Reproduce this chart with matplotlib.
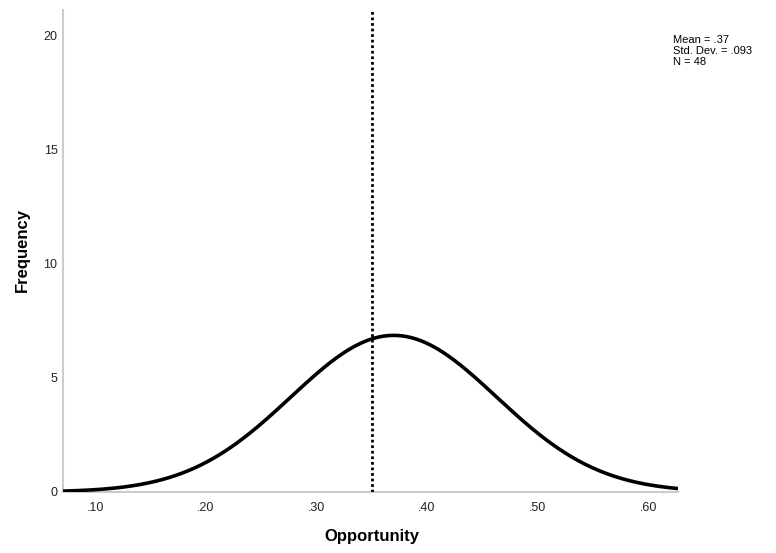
import numpy as np
import matplotlib
matplotlib.use("Agg")
import matplotlib.pyplot as plt

plt.rcParams['font.family'] = ['Liberation Sans', 'DejaVu Sans']

mean = 0.37
sd = 0.093
n = 48
bin_width = 0.0333
ref_line = 0.35
xticks = [0.10, 0.20, 0.30, 0.40, 0.50, 0.60]
xtick_labels = ['.10', '.20', '.30', '.40', '.50', '.60']
yticks = [0, 5, 10, 15, 20]

fig = plt.figure(figsize=(7.76, 5.53), dpi=100)
ax = fig.add_axes([63/776, 1-492/553, (678-63)/776, (492-10)/553])

xmin, xmax = 0.071, 0.627
xs = np.linspace(xmin, xmax, 400)
ys = n * bin_width / (sd * np.sqrt(2*np.pi)) * np.exp(-0.5*((xs-mean)/sd)**2)
ax.plot(xs, ys, color='black', lw=2.6, solid_capstyle='butt', zorder=3)
ax.axvline(ref_line, color='black', lw=2, linestyle=(0, (1, 1)), zorder=4)

ax.set_xlim(xmin, xmax)
ax.set_ylim(0, 21.1)
ax.set_xticks(xticks)
ax.set_xticklabels(xtick_labels)
ax.set_yticks(yticks)
ax.tick_params(length=0, labelsize=9, colors='#222222')
ax.tick_params(axis='x', pad=7)
ax.tick_params(axis='y', pad=4)
for s in ['top', 'right']:
    ax.spines[s].set_visible(False)
for s in ['left', 'bottom']:
    ax.spines[s].set_color('#cccccc')
    ax.spines[s].set_linewidth(1.5)

fig.text(372/776, 1-537/553, 'Opportunity', fontsize=12, fontweight='bold',
         ha='center', va='center')
fig.text(22/776, 1-250/553, 'Frequency', fontsize=12, fontweight='bold',
         ha='center', va='center', rotation=90)

fig.text(673/776, 1-51/553, 'Mean = .37\nStd. Dev. = .093\nN = 48', fontsize=8,
         va='center', ha='left', linespacing=1.15)

fig.savefig('out.png', dpi=100)
